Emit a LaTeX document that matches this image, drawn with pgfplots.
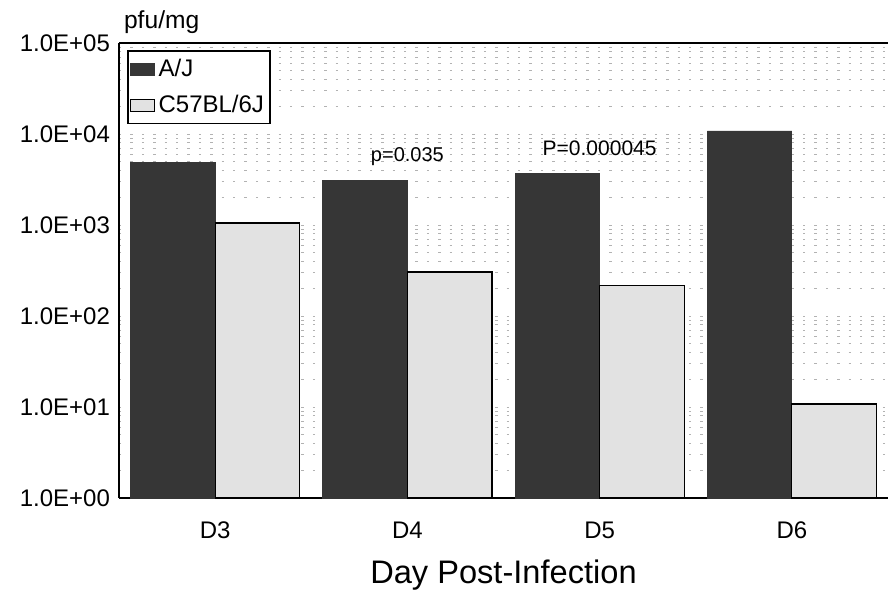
\documentclass[border=0pt]{standalone}
\usepackage{pgfplots}
\pgfplotsset{compat=1.18}
\usepackage{fontspec}
\setmainfont{Liberation Sans}
\definecolor{darkbar}{HTML}{363636}
\definecolor{lightbar}{HTML}{E2E2E2}

\begin{document}
\begin{tikzpicture}
\begin{axis}[
  scale only axis,
  width=384.5pt, height=227.5pt,
  ymode=log, ymin=1, ymax=1e5,
  xmin=-0.5, xmax=3.5,
  ybar=0pt, bar width=0.44,
  xtick={0,1,2,3},
  xticklabels={D3,D4,D5,D6},
  ytick={1,10,100,1000,10000,100000},
  yticklabels={1.0E+00,1.0E+01,1.0E+02,1.0E+03,1.0E+04,1.0E+05},
  axis y line*=left,
  x axis line style={line width=0.9pt},
  y axis line style={line width=0.9pt},
  xtick style={draw=none},
  ytick style={draw=none},
  minor ytick={2,3,4,5,6,7,8,9,20,30,40,50,60,70,80,90,200,300,400,500,600,700,800,900,2000,3000,4000,5000,6000,7000,8000,9000,20000,30000,40000,50000,60000,70000,80000,90000},
  minor tick style={draw=none},
  ymajorgrids, yminorgrids,
  major grid style={gray!60, dash pattern=on 1.2pt off 4.5pt},
  minor grid style={gray!60, dash pattern=on 1.2pt off 4.5pt},
  tick label style={font=\fontsize{12}{14}\selectfont},
  yticklabel style={xshift=-1pt},
  xticklabel style={yshift=-4pt},
  xlabel={Day Post-Infection},
  xlabel style={font=\fontsize{16.3}{19}\selectfont, yshift=-4pt},
  title={pfu/mg},
  title style={font=\fontsize{12.3}{14}\selectfont, at={(0,1)}, anchor=south west, xshift=-1pt, yshift=-5pt},
  legend style={at={(0,1)}, anchor=north west, xshift=4pt, yshift=-3.5pt,
    draw=black, line width=0.8pt, font=\fontsize{12}{14}\selectfont,
    inner xsep=1pt, inner ysep=2pt, row sep=4pt, text depth=0pt, cells={anchor=west}},
  legend image code/.code={\draw[#1, line width=0.4pt] (0pt,-3pt) rectangle (12pt,3pt);},
  legend cell align=left,
]
\addplot[fill=darkbar, draw=darkbar] coordinates {(0,4900) (1,3100) (2,3700) (3,10800)};
\addplot[fill=lightbar, draw=black, line width=0.6pt] coordinates {(0,1050) (1,305) (2,215) (3,10.8)};
\legend{A/J,C57BL/6J\hspace{6pt}}
\node[font=\fontsize{10}{12}\selectfont] at (axis cs:1,5600) {p=0.035};
\node[font=\fontsize{10.5}{12}\selectfont] at (axis cs:2,6900) {P=0.000045};
\coordinate (bl) at (rel axis cs:0,0);
\coordinate (tr) at (rel axis cs:1,1);
\end{axis}
\pgfresetboundingbox
\path[use as bounding box] ([shift={(-59.5pt,-47pt)}]bl) rectangle ([shift={(1pt,21.5pt)}]tr);
\end{tikzpicture}
\end{document}
